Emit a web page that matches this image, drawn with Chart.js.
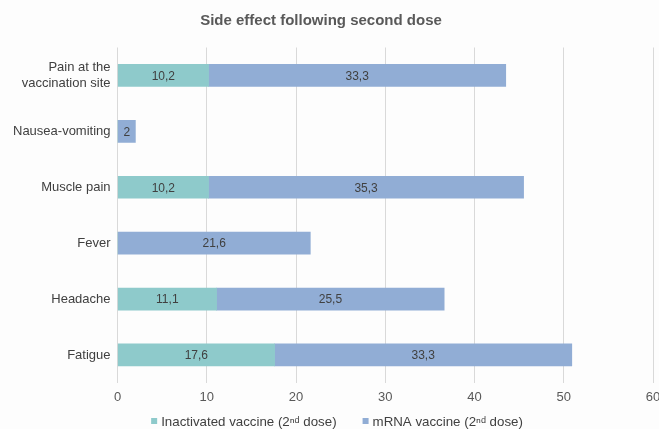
<!DOCTYPE html>
<html><head><meta charset="utf-8">
<script src="https://cdn.jsdelivr.net/npm/chart.js@4"></script>
<style>html,body{margin:0;padding:0;background:#fdfdfd;}#wrap{width:659px;height:429px;}</style>
</head><body><div id="wrap"><canvas id="c" width="659" height="429"></canvas></div>
<script>
const categories = [["Pain at the","vaccination site"],"Nausea-vomiting","Muscle pain","Fever","Headache","Fatigue"];
const inactivated = [10.2, 0, 10.2, 0, 11.1, 17.6];
const mrna = [33.3, 2, 35.3, 21.6, 25.5, 33.3];
const seriesNames = ["Inactivated vaccine (2\u207F\u1D48 dose)", "mRNA vaccine (2\u207F\u1D48 dose)"];
const seriesColors = ['#8ecacb', '#91add5'];
const xTicks = [0,10,20,30,40,50,60];
const titleText = 'Side effect following second dose';

const FONT = "'Liberation Sans', Arial, sans-serif";
const labelPlugin = {
  id: 'barLabels',
  afterDatasetsDraw(chart) {
    const ctx = chart.ctx;
    ctx.save();
    ctx.font = "12px " + FONT;
    ctx.fillStyle = "#404040";
    ctx.textAlign = "center";
    ctx.textBaseline = "middle";
    chart.data.datasets.forEach((ds, i) => {
      const meta = chart.getDatasetMeta(i);
      meta.data.forEach((bar, j) => {
        const v = ds.data[j];
        if (!v) return;
        const cx = (bar.x + bar.base) / 2;
        ctx.fillText(String(v).replace('.', ','), cx, bar.y + 1);
      });
    });
    ctx.restore();
  },
  afterDraw(chart) {
    const ctx = chart.ctx;
    ctx.save();
    // title
    ctx.font = "bold 15px " + FONT;
    ctx.fillStyle = "#595959";
    ctx.textAlign = "center";
    ctx.textBaseline = "middle";
    ctx.fillText(titleText, 321, 21);
    // legend
    ctx.font = "13.3px " + FONT;
    ctx.textAlign = "left";
    const gap = 26, box = 6, boxGap = 4;
    const widths = seriesNames.map(s => ctx.measureText(s).width);
    const total = widths.reduce((a,b)=>a+b,0) + 2*(box+boxGap) + gap;
    let x = 337 - total/2;
    const y = 421;
    seriesNames.forEach((s, i) => {
      ctx.fillStyle = seriesColors[i];
      ctx.fillRect(x, y - box/2, box, box);
      ctx.fillStyle = "#404040";
      ctx.fillText(s, x + box + boxGap, y + 1);
      x += box + boxGap + widths[i] + gap;
    });
    ctx.restore();
  }
};

new Chart(document.getElementById('c'), {
  type: 'bar',
  data: {
    labels: categories,
    datasets: [
      {label: seriesNames[0], data: inactivated, backgroundColor: seriesColors[0], barThickness: 22},
      {label: seriesNames[1], data: mrna, backgroundColor: seriesColors[1], barThickness: 22}
    ]
  },
  plugins: [labelPlugin],
  options: {
    indexAxis: 'y',
    responsive: false,
    animation: false,
    layout: {padding: {left: 6, right: 6, top: 47.5, bottom: 16.5}},
    scales: {
      x: {
        stacked: true, min: 0, max: 60,
        afterBuildTicks(axis){ axis.ticks = xTicks.map(v => ({value: v})); },
        afterFit(scale){ scale.paddingLeft = 0; scale.paddingRight = 0; },
        grid: {color: '#d9d9d9', lineWidth: 1, drawTicks: false},
        border: {display: false},
        ticks: {color: '#595959', font: {size: 13, family: FONT}, padding: 7}
      },
      y: {
        stacked: true,
        grid: {display: false, drawTicks: false},
        border: {display: false},
        ticks: {color: '#404040', font: {size: 13, family: FONT, lineHeight: 1.2}, padding: 7}
      }
    },
    plugins: {
      title: {display: false},
      legend: {display: false},
      tooltip: {enabled: false}
    }
  }
});
</script></body></html>
